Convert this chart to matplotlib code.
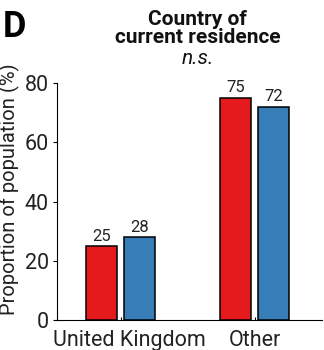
import numpy as np
import matplotlib.pyplot as plt
from matplotlib.transforms import ScaledTranslation

plt.rcParams['font.family'] = ['Roboto', 'DejaVu Sans']

# data
categories = ["United Kingdom", "Other"]
group_a = [25, 75]   # red
group_b = [28, 72]   # blue
colors = ["#E41A1C", "#377EB8"]

fig = plt.figure(figsize=(3.24, 3.5), dpi=100)
ax = fig.add_axes([0.176, 0.0857, 0.818, 0.677])

x = np.arange(len(categories))
w = 0.231
off = 0.142
bars_a = ax.bar(x - off, group_a, w, color=colors[0], edgecolor="black", linewidth=1.1)
bars_b = ax.bar(x + off, group_b, w, color=colors[1], edgecolor="black", linewidth=1.1)

for bars, vals in [(bars_a, group_a), (bars_b, group_b)]:
    for b, v in zip(bars, vals):
        ax.text(b.get_x() + b.get_width() / 2, v + 0.8, str(v),
                ha="center", va="bottom", fontsize=12, color="#222222")

ax.set_xlim(-0.474, 1.504)
ax.set_ylim(0, 80)
ax.set_yticks([0, 20, 40, 60, 80])
ax.set_xticks(x)
ax.set_xticklabels(categories)
ax.tick_params(axis="x", direction="in", length=2, labelsize=15.5, pad=7,
               labelcolor="#222222")
ax.tick_params(axis="y", direction="out", length=3, labelsize=15.5, pad=3,
               labelcolor="#222222")
# the first category label sits a bit right of its tick in the original
lab0 = ax.get_xticklabels()[0]
lab0.set_transform(lab0.get_transform() + ScaledTranslation(0.085, 0, fig.dpi_scale_trans))

ax.set_ylabel("Proportion of population (%)", fontsize=14.5, color="#222222")
ax.yaxis.set_label_coords(-0.14, 0.55)
for s in ["top", "right"]:
    ax.spines[s].set_visible(False)

fig.text(0.61, 0.972, "Country of\ncurrent residence", ha="center", va="top",
         fontsize=15, fontweight="bold", linespacing=0.95, color="#111111")
fig.text(0.61, 0.834, "n.s.", ha="center", va="center", fontsize=15,
         style="italic", color="#111111")
fig.text(0.008, 0.975, "D", ha="left", va="top", fontsize=26, fontweight="bold")

fig.savefig("out.png", dpi=100)
